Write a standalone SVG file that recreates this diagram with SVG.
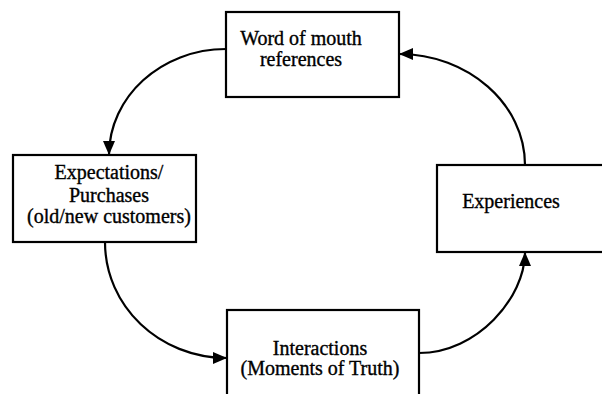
<svg xmlns="http://www.w3.org/2000/svg" width="602" height="394" viewBox="0 0 602 394">
  <style>
    .box { fill: #ffffff; stroke: #000000; stroke-width: 2.2; }
    .lbl { font-family: "Liberation Serif", "Times New Roman", serif; font-size: 20px; fill: #000000; stroke: #000000; stroke-width: 0.35; text-anchor: middle; }
    .conn { fill: none; stroke: #000000; stroke-width: 2.2; marker-end: url(#arrow); }
  </style>
  <defs>
    <marker id="arrow" markerUnits="userSpaceOnUse" markerWidth="16" markerHeight="14" viewBox="0 0 16 14" refX="15" refY="7" orient="auto">
      <path d="M1,1 L15,7 L1,13 Z" fill="#000000"/>
    </marker>
  </defs>
  <rect width="602" height="394" fill="#ffffff"/>

  <g id="word-of-mouth">
    <rect class="box" x="226" y="12" width="173" height="85"/>
    <text class="lbl" x="301" y="45">Word of mouth</text>
    <text class="lbl" x="301" y="66">references</text>
  </g>

  <g id="expectations">
    <rect class="box" x="13" y="155" width="183" height="87"/>
    <text class="lbl" x="109" y="179">Expectations/</text>
    <text class="lbl" x="109" y="202">Purchases</text>
    <text class="lbl" x="109" y="223">(old/new customers)</text>
  </g>

  <g id="interactions">
    <rect class="box" x="227" y="310" width="192" height="100"/>
    <text class="lbl" x="320" y="355">Interactions</text>
    <text class="lbl" x="320" y="375">(Moments of Truth)</text>
  </g>

  <g id="experiences">
    <rect class="box" x="437" y="165" width="180" height="87"/>
    <text class="lbl" x="511" y="208">Experiences</text>
  </g>

  <g id="connectors">
    <path class="conn" d="M226,49 C161,49 109,97 109,155"/>
    <path class="conn" d="M105,242 C105,306 159,358 227,358"/>
    <path class="conn" d="M419,353 C477,353 525,298 525,252"/>
    <path class="conn" d="M525,165 C525,104 468,54 399,54"/>
  </g>
</svg>
